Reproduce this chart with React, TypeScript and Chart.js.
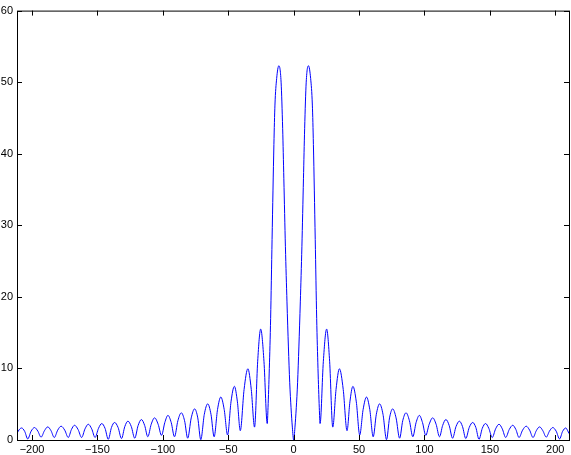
import { useEffect, useRef } from "react";
import { Chart, registerables } from "chart.js";

Chart.register(...registerables);

// Curve samples (left half, x ascending)
const xLeft = [
  -211.5, -210.0,
  -208.0, -205.6, -203.3, -200.7, -198.1, -195.6, -193.1, -190.5,
  -188.0, -185.5, -183.0, -180.4, -177.8, -175.0, -172.3, -169.9,
  -167.5, -164.8, -162.1, -159.5, -157.0, -154.4, -151.8, -149.2,
  -146.7, -144.2, -141.7, -139.3, -136.9, -134.2, -131.6, -129.1,
  -126.7, -124.1, -121.5, -118.9, -116.4, -113.9, -111.5, -108.9,
  -106.3, -103.6, -101.0, -98.5, -96.1, -93.6, -91.1, -88.5,
  -85.9, -83.4, -81.0, -78.3, -75.7, -73.3, -71.0, -68.3,
  -65.7, -63.2, -60.8, -58.2, -55.7, -53.1, -50.5, -47.9,
  -45.3, -43.0, -40.8, -37.9, -35.0, -32.4, -29.9, -27.5,
  -25.2, -22.7,
  -20.2, -19.6, -18.6, -17.6, -16.5, -15.1, -14.3, -13.0, -11.3, -9.6,
  -8.4, -7.5, -6.3, -5.1, -4.0, -3.0, -2.0, -1.0, 0,
];
const yLeft = [
  0.9, 1.4,
  1.68, 1.2, 0.15, 1.23, 1.74, 1.25, 0.4, 1.3,
  1.83, 1.3, 0.35, 1.37, 1.93, 1.37, 0.35, 1.46,
  2.06, 1.46, 0.35, 1.56, 2.2, 1.56, 0.35, 1.63,
  2.3, 1.63, 0.1, 1.74, 2.45, 1.74, 0.2, 1.87,
  2.63, 1.87, 0.25, 2.03, 2.86, 2.03, 0.45, 2.2,
  3.1, 2.2, 0.65, 2.44, 3.44, 2.44, 0.45, 2.7,
  3.8, 2.7, 0.25, 3.09, 4.35, 3.09, 0.05, 3.59,
  5.05, 3.59, 0.45, 4.26, 6.0, 4.26, 0.7, 5.33,
  7.5, 5.33, 1.3, 7.06, 9.95, 7.06, 1.8, 11.0,
  15.5, 11.0,
  2.3, 4.5, 10, 17, 28, 41.3, 46.8, 50.5, 52.3, 50.0,
  43.5, 36.5, 27, 19.3, 13, 8, 4.5, 1.8, 0,
];

// Right half, x ascending
const xRight = [
  1.0, 2.0, 3.0, 4.0, 5.1, 6.3, 7.5, 8.4, 9.6, 11.3,
  13.0, 14.3, 15.1, 16.5, 17.6, 18.6, 19.6,
  20.2, 22.7, 25.2, 27.5, 29.9, 32.4, 35.0, 37.9,
  40.8, 43.0, 45.3, 47.9, 50.5, 53.1, 55.7, 58.2,
  60.8, 63.2, 65.7, 68.3, 71.0, 73.3, 75.7, 78.3,
  81.0, 83.4, 85.9, 88.5, 91.1, 93.6, 96.1, 98.5,
  101.0, 103.6, 106.3, 108.9, 111.5, 113.9, 116.4, 118.9,
  121.5, 124.1, 126.7, 129.1, 131.6, 134.2, 136.9, 139.3,
  141.7, 144.2, 146.7, 149.2, 151.8, 154.4, 157.0, 159.5,
  162.1, 164.8, 167.5, 169.9, 172.3, 175.0, 177.8, 180.4,
  183.0, 185.5, 188.0, 190.5, 193.1, 195.6, 198.1, 200.7,
  203.3, 205.6, 208.0, 209.5, 210.5,
];
const yRight = [
  1.8, 4.5, 8, 13, 19.3, 27, 36.5, 43.5, 50.0, 52.3,
  50.5, 46.8, 41.3, 28, 17, 10, 4.5,
  2.3, 11.0, 15.5, 11.0, 1.8, 7.06, 9.95, 7.06,
  1.3, 5.33, 7.5, 5.33, 0.7, 4.26, 6.0, 4.26,
  0.45, 3.59, 5.05, 3.59, 0.05, 3.09, 4.35, 3.09,
  0.25, 2.7, 3.8, 2.7, 0.45, 2.44, 3.44, 2.44,
  0.65, 2.2, 3.1, 2.2, 0.45, 2.03, 2.86, 2.03,
  0.25, 1.87, 2.63, 1.87, 0.2, 1.74, 2.45, 1.74,
  0.1, 1.63, 2.3, 1.63, 0.35, 1.56, 2.2, 1.56,
  0.35, 1.46, 2.06, 1.46, 0.35, 1.37, 1.93, 1.37,
  0.35, 1.3, 1.83, 1.3, 0.4, 1.25, 1.74, 1.23,
  0.15, 1.2, 1.68, 1.3, 0.9,
];

const xTicks = [-200, -150, -100, -50, 0, 50, 100, 150, 200];
const yTicks = [0, 10, 20, 30, 40, 50, 60];

const X_MIN = -211.5;
const X_MAX = 210.5;
const Y_MIN = 0;
const Y_MAX = 60;

const FONT = { family: "'Liberation Sans', Arial, Helvetica, sans-serif", size: 11 };

function fmt(v: number): string {
  return v < 0 ? "\u2212" + String(Math.abs(v)) : String(v);
}

export default function App() {
  const ref = useRef<HTMLCanvasElement>(null);

  useEffect(() => {
    const canvas = ref.current;
    if (!canvas) return;

    const xs = [...xLeft, ...xRight];
    const ys = [...yLeft, ...yRight];
    const points = xs.map((x, i) => ({ x, y: ys[i] }));

    const framePlugin = {
      id: "matlabFrame",
      afterDatasetsDraw(chart: any) {
        const { ctx, chartArea: a, scales } = chart;
        ctx.save();
        ctx.strokeStyle = "#000";
        ctx.lineWidth = 1;
        ctx.beginPath();
        for (const v of xTicks) {
          const px = Math.round(scales.x.getPixelForValue(v)) + 0.5;
          ctx.moveTo(px, a.bottom);
          ctx.lineTo(px, a.bottom - 5);
          ctx.moveTo(px, a.top);
          ctx.lineTo(px, a.top + 5);
        }
        for (const v of yTicks) {
          const py = Math.round(scales.y.getPixelForValue(v)) + 0.5;
          ctx.moveTo(a.left, py);
          ctx.lineTo(a.left + 5, py);
          ctx.moveTo(a.right, py);
          ctx.lineTo(a.right - 5, py);
        }
        ctx.stroke();
        ctx.strokeRect(a.left + 0.5, a.top + 0.5, a.right - a.left, a.bottom - a.top);
        ctx.restore();
      },
    };

    const chart = new Chart(canvas, {
      type: "line",
      data: {
        datasets: [
          {
            data: points,
            borderColor: "#0000ff",
            borderWidth: 1,
            pointRadius: 0,
            cubicInterpolationMode: "monotone",
            fill: false,
          },
        ],
      },
      options: {
        responsive: false,
        animation: false,
        devicePixelRatio: 1,
        layout: { padding: { top: 4, right: 2, left: 0, bottom: 0 } },
        plugins: {
          legend: { display: false },
          tooltip: { enabled: false },
        },
        scales: {
          x: {
            type: "linear",
            min: X_MIN,
            max: X_MAX,
            grid: { display: false, drawTicks: false },
            border: { display: false },
            afterBuildTicks: (s: any) => {
              s.ticks = xTicks.map((v) => ({ value: v }));
            },
            afterFit: (s: any) => {
              s.height = 15;
            },
            ticks: {
              autoSkip: false,
              maxRotation: 0,
              padding: 3,
              color: "#000",
              font: FONT,
              callback: (v: any) => fmt(Number(v)),
            },
          },
          y: {
            type: "linear",
            min: Y_MIN,
            max: Y_MAX,
            grid: { display: false, drawTicks: false },
            border: { display: false },
            afterBuildTicks: (s: any) => {
              s.ticks = yTicks.map((v) => ({ value: v }));
            },
            afterFit: (s: any) => {
              s.width = 17;
            },
            ticks: {
              autoSkip: false,
              padding: 4,
              color: "#000",
              font: FONT,
              callback: (v: any) => fmt(Number(v)),
            },
          },
        },
      },
      plugins: [framePlugin],
    } as any);

    return () => chart.destroy();
  }, []);

  return (
    <div style={{ position: "absolute", left: 0, top: 0, width: 571, height: 455, background: "#fff" }}>
      <canvas ref={ref} width={571} height={455} style={{ display: "block" }} />
    </div>
  );
}
